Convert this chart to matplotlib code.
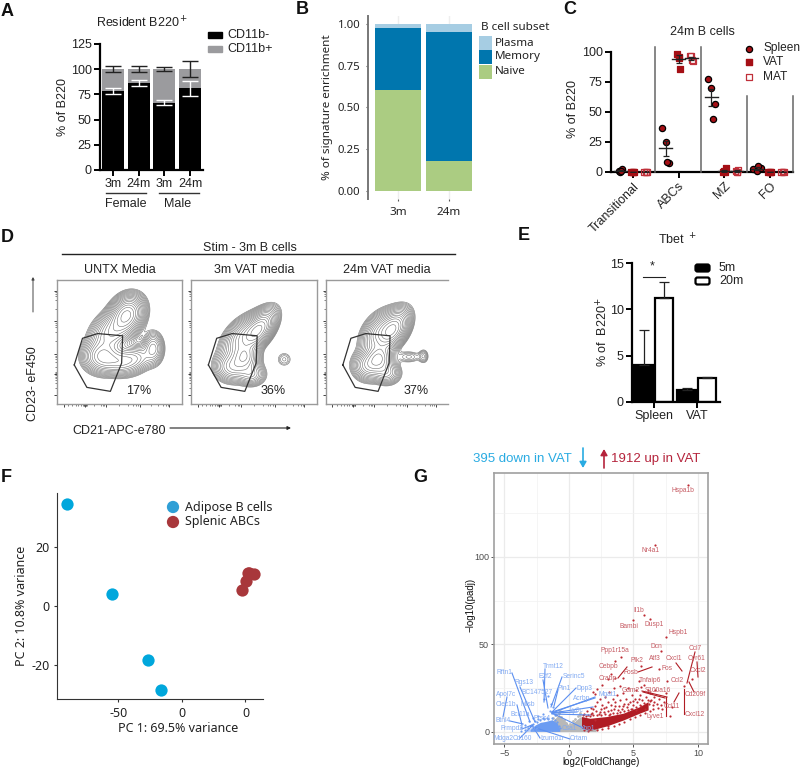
import numpy as np
import matplotlib
matplotlib.use("Agg")
import matplotlib.pyplot as plt
from matplotlib.patches import FancyBboxPatch, Rectangle

W, H = 800, 769
FONT = "Liberation Sans"
FONT2 = "Noto Sans"

# A
a_labels = ["3m", "24m", "3m", "24m"]
a_neg = [78.5, 86, 66.5, 81]
a_neg_err = [3.3, 3, 2.5, 7.5]
a_pos = [21.5, 14, 33.5, 19]
a_top_low = [96.9, 97.5, 98, 92.3]
a_top_high = [103.5, 103.5, 102.5, 107.8]

# B
b_labels = ["3m", "24m"]
b_naive = [0.605, 0.18]
b_memory = [0.375, 0.775]
b_plasma = [0.02, 0.045]

# C
c_labels = ["Transitional", "ABCs", "MZ", "FO"]
spleen = [[1.1, 0.1, 2.2, 0.8], [37, 24.7, 7.2, 8.6], [77.6, 69.5, 56.8, 43.8], [2.5, 1, 3, 5.3]]
vat = [[0, 0.2, 0, 0.1], [98, 96, 86, 95], [0, 0.5, 3, 0.3], [0.2, 0.1, 0.3, 0]]
mat = [[0.2, 0.1, 0.3, 0], [97, 97, 92, 93], [1, 0, 2, 0.2], [0.3, 0.2, 0.1, 0.4]]
spread = [-0.08, 0.0, 0.08, 0.03]
c_mean = [[1, 0.1, 0.1], [19.7, 94, 94.5], [62, 1, 0.8], [2.9, 0.1, 0.2]]
c_err = [[0.5, 0, 0], [6, 3, 1.5], [7, 0.7, 0.5], [0.9, 0, 0]]

# D
d_titles = ["UNTX Media", "3m VAT media", "24m VAT media"]
d_pct = ["17%", "36%", "37%"]
gate_x = [0.138, 0.204, 0.326, 0.525, 0.517, 0.427, 0.239]
gate_y = [0.315, 0.53, 0.568, 0.55, 0.33, 0.102, 0.134]
d_comp = [
    [(0.56, 0.72, 0.07, 0.08, 0.2, 1.0), (0.44, 0.58, 0.09, 0.09, 0.3, 0.5),
     (0.36, 0.38, 0.08, 0.07, 0.0, 0.5), (0.52, 0.34, 0.09, 0.06, 0.0, 0.4),
     (0.77, 0.45, 0.045, 0.07, 0.0, 0.3), (0.64, 0.38, 0.07, 0.055, 0.0, 0.2)],
    [(0.54, 0.60, 0.07, 0.085, 0.55, 1.0), (0.42, 0.55, 0.09, 0.09, 0.5, 0.55),
     (0.43, 0.38, 0.06, 0.06, 0.0, 0.6), (0.33, 0.30, 0.075, 0.065, 0.0, 0.45),
     (0.48, 0.24, 0.06, 0.05, 0.0, 0.3), (0.74, 0.36, 0.04, 0.04, 0.0, 0.075)],
    [(0.55, 0.60, 0.07, 0.085, 0.45, 1.0), (0.44, 0.58, 0.08, 0.09, 0.4, 0.5),
     (0.44, 0.37, 0.06, 0.06, 0.0, 0.6), (0.35, 0.31, 0.07, 0.065, 0.0, 0.45),
     (0.50, 0.25, 0.06, 0.05, 0.0, 0.3), (0.68, 0.38, 0.06, 0.03, 0.0, 0.09),
     (0.80, 0.385, 0.025, 0.035, 0.0, 0.1)],
]
d_major_x = [0.053, 0.225, 0.393, 0.663, 0.90]
d_minor_x = [0.09, 0.12, 0.15, 0.17, 0.19, 0.21, 0.215, 0.22, 0.23, 0.235, 0.24, 0.30, 0.35, 0.37, 0.38,
             0.50, 0.57, 0.61, 0.63, 0.65, 0.75, 0.81, 0.85, 0.87, 0.885]
d_major_y = [0.91, 0.67, 0.40, 0.24, 0.07]
d_minor_y = [0.13, 0.17, 0.19, 0.21, 0.22, 0.23, 0.245, 0.25, 0.26, 0.30, 0.34, 0.36, 0.38, 0.39,
             0.51, 0.58, 0.62, 0.64, 0.655, 0.77, 0.84, 0.87, 0.89, 0.90]

# E
e_labels = ["Spleen", "VAT"]
e_5m = [4.0, 1.3]
e_20m = [11.2, 2.6]
e_5m_err = [3.75, 0.25]
e_20m_err = [1.8, 0.15]

# F
adipose_x = [-90.8, -55, -26.5, -16.8]
adipose_y = [34.6, 3.95, -18.2, -28.6]
abc_x = [47, 50.4, 53, 56.7, 52]
abc_y = [5.3, 8.5, 11.2, 11, 11.2]
f_tick_labels = ["-50", "0", "0"]

# G
red_points = [(1.2, 10.5), (1.4, 12), (1.5, 9.5), (1.7, 13.5), (1.8, 11), (1.9, 22.7), (2.0, 21.5), (2.0, 15),
              (2.1, 12), (2.2, 17), (2.3, 10.5), (2.4, 19), (2.5, 13), (2.6, 15.5), (2.7, 11.5), (2.8, 20),
              (2.9, 14), (3.0, 17), (3.0, 12), (3.1, 23), (3.2, 10.5), (3.3, 15.5), (3.4, 19), (3.5, 13),
              (3.5, 25), (3.6, 17), (3.7, 21), (3.8, 12.5), (3.9, 15), (4.0, 18), (4.0, 26), (4.1, 13),
              (4.2, 22), (4.3, 16), (4.4, 19), (4.5, 14), (4.6, 25), (4.7, 17), (4.8, 13), (4.9, 21),
              (5.0, 15.5), (5.1, 19), (5.2, 12.5), (5.2, 24), (5.3, 17), (5.4, 29), (5.5, 21), (5.6, 25.9),
              (5.6, 15), (5.7, 18), (5.8, 27), (5.9, 13), (6.0, 20), (6.1, 24), (6.2, 16), (6.3, 22),
              (6.4, 18), (6.5, 13), (6.6, 20), (6.7, 24), (6.8, 16), (7.0, 19), (7.2, 13), (7.4, 17),
              (7.5, 22), (7.8, 9), (8.0, 14), (2.0, 7), (3.0, 3.5), (9.56, 30.5), (8.9, 26.5), (7.57, 29),
              (4.2, 30.7), (3.54, 40.7), (4.06, 43), (6.98, 36.2), (7.1, 46), (7.52, 54.3), (5.6, 37.7),
              (9.2, 141), (6.67, 107), (5.84, 66.9), (4.94, 64), (6.28, 64.6), (3.3, 33), (3.0, 30),
              (2.6, 27), (2.2, 24.5), (3.6, 31),
              (1.1, 9.6), (1.3, 9.2), (1.6, 8.9), (1.9, 9.4), (2.2, 9.6), (2.5, 9.9), (2.8, 10.1), (3.1, 9.8),
              (3.4, 10.6), (3.7, 11), (4.0, 11.4), (4.3, 11.9), (4.6, 12.4), (4.9, 13.3), (5.2, 14.4), (5.5, 15.6),
              (5.8, 16.4), (6.1, 18), (1.15, 1.2), (1.5, 0.7), (2.2, 0.9), (2.6, 1.8), (3.0, 2.4), (3.5, 3.4),
              (3.9, 4.6), (4.3, 5.6), (4.7, 7.4), (5.1, 8.6), (5.5, 9.6), (5.9, 11), (6.3, 12.2), (6.5, 15.2),
              (6.3, 17.8), (6.6, 17.2), (6.9, 13.8), (7.1, 15.4), (1.7, 10.2), (2.4, 11.2), (3.3, 12.3), (4.2, 14.6),
              (5.0, 17.4), (3.6, 14.6), (2.7, 13.6), (1.9, 13), (4.6, 15.8), (5.4, 18.6)]
blue_points = [(-1.95, 19), (-1.6, 20.5), (-1.4, 16), (-1.2, 14), (-1.5, 12), (-2.4, 9), (-2.8, 8), (-3.1, 6),
               (-3.4, 4), (-3.7, 3), (-2.0, 10), (-1.1, 9.5), (-2.6, 6.5), (-1.7, 8),
               (-3.2, 2.2), (-3.0, 3.4), (-2.8, 4.6), (-2.5, 5.4), (-2.2, 6.6), (-1.9, 7.2), (-1.6, 7.6), (-1.3, 8),
               (-1.1, 6.6), (-0.9, 5.8), (-0.8, 3.6), (-0.65, 2.2), (-3.4, 1), (-3.7, 0.8), (-2.4, 7.4), (-2.0, 8)]
grey_points = [(-1.5, 3.2), (-1.4, 4.8), (-1.2, 7.8), (-1.0, 9.4), (-0.8, 10.6), (-0.6, 8.8), (-0.4, 6.6), (-0.2, 5),
               (0.1, 4.6), (0.3, 6.4), (0.5, 7.6), (0.7, 9), (0.9, 9.6), (1.1, 7.8), (1.3, 6.2), (1.6, 5.4), (1.9, 3.2),
               (2.2, 1.6), (-0.7, 12), (0.85, 11)]
up_x = [0.98, 1.63, 2.92, 4.21, 5.5, 6.14]
up_top = [8.8, 7.8, 8.8, 10.7, 14.5, 17.3]
up_bottom = [2.1, 0.9, 3.4, 6.8, 10.8, 12.6]
down_x = [-3.0, -2.6, -2.2, -1.8, -1.3, -0.9, -0.7]
down_top = [1.5, 4, 5.5, 6, 7, 5, 1.5]
ns_x = [-1.34, -0.77, 0.0, 0.45, 0.9, 1.5, 2.1]
ns_top = [5.6, 10, 4, 6, 8.8, 6, 1.3]


def axpx(l, t, r, b):
    return fig.add_axes([l / W, 1 - b / H, (r - l) / W, (b - t) / H])


def txt(x, y, s, size=9, ha="center", va="center", color="#222222", family=FONT, **kw):
    return ov.text(x, y, s, fontsize=size, ha=ha, va=va, color=color, family=family, **kw)


def prism_axes(ax):
    for s in ["top", "right"]:
        ax.spines[s].set_visible(False)
    for s in ["left", "bottom"]:
        ax.spines[s].set_linewidth(1.6)
    ax.tick_params(width=1.4, length=4, labelsize=9, pad=2)
    for lab in ax.get_xticklabels() + ax.get_yticklabels():
        lab.set_family(FONT)
        lab.set_color("#222222")


def density(comps):
    gx, gy = np.meshgrid(np.linspace(0, 1, 300), np.linspace(0, 1, 300))
    z = np.zeros_like(gx)
    for cx, cy, sx, sy, rho, w in comps:
        dx = (gx - cx) / sx
        dy = (gy - cy) / sy
        z += w * np.exp(-(dx * dx - 2 * rho * dx * dy + dy * dy) / (2 * (1 - rho * rho)))
    return gx, gy, z / z.max()


fig = plt.figure(figsize=(W / 100, H / 100), dpi=100)
ov = fig.add_axes([0, 0, 1, 1], zorder=10)
ov.set_xlim(0, W)
ov.set_ylim(H, 0)
ov.axis("off")
ov.patch.set_alpha(0)

for letter, lx, ly in [("A", 1, 12), ("B", 296, 9), ("C", 563, 10), ("D", 1, 237), ("E", 518, 236),
                       ("F", 1, 478), ("G", 413, 478)]:
    txt(lx, ly, letter, size=13, ha="left", color="#111111", fontweight="bold")

# panel A
ax = axpx(100, 44, 203, 170)
xa = np.arange(4)
ax.bar(xa, a_neg, width=0.85, color="black")
ax.bar(xa, a_pos, width=0.85, bottom=a_neg, color="#9b9b9e")
ax.errorbar(xa, a_neg, yerr=a_neg_err, fmt="none", ecolor="white", elinewidth=1, capsize=5.5, capthick=1)
top = np.array(a_top_high)
low = np.array(a_top_low)
ax.errorbar(xa, (top + low) / 2, yerr=(top - low) / 2, fmt="none", ecolor="#222222", elinewidth=1, capsize=5.5, capthick=1)
ax.set_xlim(-0.5, 3.5)
ax.set_ylim(0, 125)
ax.set_yticks([0, 25, 50, 75, 100, 125])
ax.set_xticks(xa)
ax.set_xticklabels(a_labels)
prism_axes(ax)
ax.set_ylabel("% of B220", fontsize=9, family=FONT, color="#222222", labelpad=1)
txt(142, 23, "Resident B220$^+$", size=9)
ov.plot([106, 146], [193, 193], color="#333333", lw=1)
ov.plot([159, 199], [193, 193], color="#333333", lw=1)
txt(126, 204, "Female", size=9)
txt(178, 204, "Male", size=9)
ov.add_patch(Rectangle((208, 32), 14, 6, color="black"))
ov.add_patch(Rectangle((208, 46), 14, 6, color="#9b9b9e"))
txt(227, 35, "CD11b-", ha="left")
txt(227, 49, "CD11b+", ha="left")

# panel B
ax = axpx(368, 16, 481, 199)
xb = np.arange(2)
b1 = np.array(b_naive)
b2 = b1 + np.array(b_memory)
ax.grid(axis="x", color="#eeeeee", lw=1)
ax.set_axisbelow(True)
ax.bar(xb, b_naive, width=0.9, color="#abcc82")
ax.bar(xb, b_memory, width=0.9, bottom=b1, color="#0076ae")
ax.bar(xb, b_plasma, width=0.9, bottom=b2, color="#a6cde3")
ax.set_xlim(-0.59, 1.63)
ax.set_ylim(-0.05, 1.05)
ax.set_xticks(xb)
ax.set_xticklabels(b_labels, family=FONT2, fontsize=8.4, color="#222222")
ax.set_yticks([0, 0.25, 0.5, 0.75, 1.0])
ax.set_yticklabels(["0.00", "0.25", "0.50", "0.75", "1.00"], family=FONT2, fontsize=8.2, color="#222222")
ax.tick_params(length=1.5, color="#555555", pad=4)
for s in ["top", "right", "bottom"]:
    ax.spines[s].set_visible(False)
ax.spines["left"].set_color("#777777")
ax.spines["left"].set_linewidth(1.4)
ax.set_ylabel("% of signature enrichment", fontsize=8.4, family=FONT2, color="#222222", labelpad=3)
txt(481, 28, "B cell subset", ha="left", family=FONT2, size=8.4)
for yy, col, lab in [(43, "#a6cde3", "Plasma"), (57, "#0076ae", "Memory"), (72, "#abcc82", "Naive")]:
    ov.add_patch(Rectangle((479, yy - 7), 13, 14, color=col, lw=0))
    txt(495, yy, lab, ha="left", family=FONT2, size=8.4)

# panel C
ax = axpx(611, 47, 793, 172)
ax.set_xlim(-0.48, 3.51)
ax.set_ylim(0, 104)
ax.patch.set_alpha(0)
spots = [(spleen, -0.28, "o", "#a50f15", "black"), (vat, 0.0, "s", "#a50f15", "#a50f15"), (mat, 0.28, "s", "none", "#c0303a")]
for k, (series, off, mk, fc, ec) in enumerate(spots):
    for i, vals in enumerate(series):
        xs = i + off + np.array(spread) * (0.4 if i == 0 or k else 1)
        ax.scatter(xs, vals, s=20 if mk == "o" else 17, marker=mk, facecolor=fc, edgecolor=ec, linewidth=0.9, zorder=3, clip_on=False)
        ax.errorbar(i + off, c_mean[i][k], yerr=c_err[i][k], fmt="none", ecolor="#222222", elinewidth=0.9, capsize=2.5, capthick=0.9, zorder=4)
        ax.plot([i + off - 0.14, i + off + 0.14], [c_mean[i][k]] * 2, color="#222222", lw=1, zorder=4)
ax.set_yticks([0, 25, 50, 75, 100])
ax.set_xticks(range(4))
ax.set_xticklabels(c_labels, rotation=45, ha="right", rotation_mode="anchor")
prism_axes(ax)
ax.spines["left"].set_bounds(0, 100)
ov.plot([655, 655], [47, 172], color="#666666", lw=1.1)
ov.plot([701, 701], [47, 172], color="#666666", lw=1.1)
ov.plot([747, 747], [96, 172], color="#666666", lw=1.1)
ov.plot([793, 793], [96, 172], color="#666666", lw=1.1)
ax.set_ylabel("% of B220", fontsize=9, family=FONT, color="#222222", labelpad=2)
txt(702, 32, "24m B cells")
ov.scatter([749], [49], s=20, marker="o", facecolor="#a50f15", edgecolor="black", linewidth=0.9)
ov.scatter([749], [62], s=17, marker="s", facecolor="#a50f15", edgecolor="#a50f15")
ov.scatter([749], [77], s=17, marker="s", facecolor="none", edgecolor="#c0303a", linewidth=0.9)
txt(763, 48, "Spleen", ha="left", size=8.6)
txt(763, 62, "VAT", ha="left", size=8.6)
txt(763, 77, "MAT", ha="left", size=8.6)

# panel D
boxes = [(57, 182), (191, 317), (326, 448)]
for i, (l, r) in enumerate(boxes):
    ax = axpx(l, 280, r, 404)
    gx, gy, z = density(d_comp[i])
    ax.contour(gx, gy, z, levels=np.geomspace(0.03, 0.88, 17), colors="#6f6f6f", linewidths=0.4)
    ax.plot(gate_x + gate_x[:1], gate_y + gate_y[:1], color="#333333", lw=0.9)
    ax.set_xlim(0, 1)
    ax.set_ylim(0, 1)
    ax.set_xticks(d_major_x)
    ax.set_xticks(d_minor_x, minor=True)
    ax.set_yticks(d_major_y)
    ax.set_yticks(d_minor_y, minor=True)
    ax.set_xticklabels([])
    ax.set_yticklabels([])
    ax.tick_params(which="major", length=2.2, width=0.6, color="#222222")
    ax.tick_params(which="minor", length=1.1, width=0.4, color="#222222")
    for s in ax.spines.values():
        s.set_color("#9a9a9a")
        s.set_linewidth(1)
    if i == 2:
        ax.spines["right"].set_visible(False)
    ax.text(0.655 if i < 2 else 0.74, 0.105, d_pct[i], transform=ax.transAxes, fontsize=9, family=FONT, ha="center", va="center", color="#222222")
    txt((l + r) / 2, 270, d_titles[i])
txt(250, 248, "Stim - 3m B cells")
ov.plot([62, 455], [254, 254], color="#222222", lw=1)
txt(33, 384, "CD23- eF450", rotation=90)
ov.annotate("", xy=(33, 277), xytext=(33, 312), arrowprops=dict(arrowstyle="-|>,head_width=0.08,head_length=0.15", color="#444444", lw=0.7, shrinkA=0, shrinkB=0))
txt(72, 431, "CD21-APC-e780", ha="left")
ov.annotate("", xy=(291, 428), xytext=(170, 428), arrowprops=dict(arrowstyle="-|>,head_width=0.1,head_length=0.2", color="#222222", lw=0.8, shrinkA=0, shrinkB=0))

# panel E
ax = axpx(632, 263, 720, 402)
xe = np.arange(2)
ax.bar(xe - 0.24, e_5m, width=0.43, color="black", edgecolor="black", linewidth=1.6)
ax.bar(xe + 0.24, e_20m, width=0.43, color="white", edgecolor="black", linewidth=1.6)
ax.errorbar(xe - 0.24, e_5m, yerr=[[0, 0], e_5m_err], fmt="none", ecolor="#222222", elinewidth=0.9, capsize=3.5, capthick=0.9)
ax.errorbar(xe + 0.24, e_20m, yerr=[[0, 0], e_20m_err], fmt="none", ecolor="#222222", elinewidth=0.9, capsize=3.5, capthick=0.9)
ax.set_xlim(-0.51, 1.54)
ax.set_ylim(0, 15)
ax.set_yticks([0, 5, 10, 15])
ax.set_xticks(xe)
ax.set_xticklabels(e_labels)
prism_axes(ax)
ov.plot([643, 665], [277, 277], color="#222222", lw=0.8)
txt(652, 266, "*", size=9)
txt(677, 240, "Tbet $^+$")
txt(603, 332, "% of  B220$^{+}$", rotation=90)
for yy, col in [(268, "black"), (281, "white")]:
    ov.add_patch(FancyBboxPatch((696, yy - 3), 13, 6, boxstyle="round,pad=0.5,rounding_size=2", facecolor=col, edgecolor="black", lw=1.6))
txt(719, 268, "5m", ha="left")
txt(719, 281, "20m", ha="left")

# panel F
ax = axpx(57, 493, 263, 699)
ax.scatter(adipose_x, adipose_y, s=78, color="#00a7dc", linewidth=0)
ax.scatter(abc_x, abc_y, s=78, color="#a8373b", linewidth=0)
ax.set_xlim(-98.4, 63.8)
ax.set_ylim(-31.5, 38.3)
ax.set_xticks([-50, 0, 50])
ax.set_xticklabels(f_tick_labels, family=FONT2, fontsize=9, color="#222222")
ax.set_yticks([-20, 0, 20])
ax.set_yticklabels(["-20", "0", "20"], family=FONT2, fontsize=9, color="#222222")
ax.tick_params(length=2.5, width=0.8, color="#333333", pad=3)
for s in ["top", "right"]:
    ax.spines[s].set_visible(False)
ax.spines["left"].set_color("#333333")
ax.spines["bottom"].set_color("#333333")
txt(178, 728, "PC 1: 69.5% variance", family=FONT2)
txt(22, 606, "PC 2: 10.8% variance", rotation=90, family=FONT2)
ov.scatter([173, 173], [507, 522], s=78, color=["#2f9fd6", "#a8373b"], linewidth=0)
txt(185, 507, "Adipose B cells", ha="left", family=FONT2)
txt(185, 522, "Splenic ABCs", ha="left", family=FONT2)

# panel G
ax = axpx(494, 473, 708, 744)
ax.set_xlim(-5.8, 10.78)
ax.set_ylim(-6.9, 148)
ax.set_xticks([-5, 0, 5, 10])
ax.set_xticklabels(["\u22125", "0", "5", "10"], family=FONT, color="#4d4d4d")
ax.set_yticks([0, 50, 100])
ax.set_yticklabels(["0", "50", "100"], family=FONT, color="#4d4d4d")
ax.set_xticks([-2.5, 2.5, 7.5], minor=True)
ax.set_yticks([25, 75, 125], minor=True)
ax.grid(which="major", color="#ebebeb", lw=0.9)
ax.grid(which="minor", color="#f2f2f2", lw=0.5)
ax.set_axisbelow(True)
ax.tick_params(which="minor", length=0)
ax.tick_params(which="major", length=2, width=0.7, color="#555555", labelsize=6.5, pad=1.5)
for s in ax.spines.values():
    s.set_color("#a0a0a0")
    s.set_linewidth(1.2)
gx_, gy_ = np.array(grey_points).T
ax.fill_between(ns_x, 0.2, ns_top, color="#b8b8b8", lw=0)
ax.scatter(gx_, gy_, s=4, color="#b8b8b8", linewidth=0)
ax.fill_between(down_x, 0.3, down_top, color="#6b9cf2", lw=0)
ax.fill_between(up_x, up_bottom, up_top, color="#b01c24", lw=0)
rx, ry = np.array(red_points).T
bx, by = np.array(blue_points).T
ax.scatter(rx, ry, s=2.5, color="#bd2a33", linewidth=0)
ax.scatter(bx, by, s=2.5, color="#6b9cf2", linewidth=0)
txt(601, 762, "log2(FoldChange)", size=7, color="#111111")
txt(470, 605, "\u2212log10(padj)", size=7, rotation=90, color="#111111")

txt(572, 459, "395 down in VAT", size=9.5, ha="right", color="#29abe2")
txt(611, 459, "1912 up in VAT", size=9.5, ha="left", color="#b5243c")
ov.annotate("", xy=(583, 468), xytext=(583, 448), arrowprops=dict(arrowstyle="-|>,head_width=0.2,head_length=0.35", color="#29abe2", lw=1.2, shrinkA=0, shrinkB=0))
ov.annotate("", xy=(604, 449), xytext=(604, 468), arrowprops=dict(arrowstyle="-|>,head_width=0.2,head_length=0.35", color="#b5243c", lw=1.2, shrinkA=0, shrinkB=0))

red_labels = [("Hspa1b", 683, 491), ("Nr4a1", 651, 550), ("Il1b", 639, 611), ("Bambi", 629, 626), ("Dusp1", 654, 625),
              ("Hspb1", 678, 632), ("Dcn", 656, 646), ("Ppp1r15a", 615, 650), ("Cebpb", 608, 667), ("Crabp", 608, 678),
              ("Plk2", 637, 661), ("Atf3", 655, 658), ("Fosb", 631, 673), ("Fos", 667, 669), ("Tnfaip6", 650, 681),
              ("Cxcl1", 674, 659), ("Ccl2", 677, 681), ("Ccl7", 695, 648), ("Cyr61", 696, 659), ("Cxcl2", 698, 670),
              ("Cd209f", 695, 695), ("Cxcl12", 695, 715), ("Gdm2", 631, 691), ("S100a16", 658, 691), ("Ccl11", 672, 706),
              ("Lyve1", 655, 717)]
for name, lx, ly in red_labels:
    txt(lx, ly, name, size=4.8, color="#c65b63")
blue_labels = [("Rftn1", 504, 672), ("Trmt12", 553, 666), ("E2f2", 545, 677), ("Serinc5", 574, 677), ("Pin1", 564, 688),
               ("Dpp3", 584, 688), ("Rgs13", 524, 683), ("BC147527", 537, 693), ("Apol7c", 506, 694), ("Clec1b", 506, 705),
               ("Mfsb", 528, 705), ("Bcl11a", 520, 715), ("Btnl4", 503, 721), ("Frmpd2", 512, 729), ("Mdga2", 503, 739),
               ("Cd160", 522, 739), ("Izumo1r", 552, 739), ("Crtam", 579, 739), ("Acrbp", 582, 699), ("Mgat1", 608, 695),
               ("Ly6c", 576, 710), ("Csa1", 569, 728), ("Xbp1", 588, 728), ("Prss4", 542, 718), ("Sv2c", 532, 731)]
for name, lx, ly in blue_labels:
    txt(lx, ly, name, size=4.8, color="#82aaf2")

red_leaders = [(627, 667, 618, 678), (652, 667, 638, 672), (676, 663, 682, 671), (695, 652, 687, 683), (697, 662, 698, 677),
               (689, 682, 694, 692), (684, 689, 684, 714), (679, 693, 674, 702), (666, 697, 666, 716), (642, 691, 667, 697),
               (643, 692, 665, 698)]
for x0, y0, x1, y1 in red_leaders:
    ov.plot([x0, x1], [y0, y1], color="#b01c24", lw=0.8)
blue_leaders = [(512, 673, 530, 722), (520, 687, 535, 722), (545, 669, 544, 702), (543, 680, 548, 708), (562, 677, 551, 707),
                (558, 690, 554, 706), (576, 688, 552, 712), (595, 698, 552, 712), (595, 697, 552, 713), (507, 697, 503, 717),
                (517, 705, 522, 725), (510, 721, 523, 724), (522, 729, 532, 725), (520, 738, 533, 725), (540, 738, 532, 725),
                (570, 739, 533, 727), (583, 728, 552, 713), (593, 707, 552, 713), (590, 715, 552, 714), (577, 712, 552, 713)]
for x0, y0, x1, y1 in blue_leaders:
    ov.plot([x0, x1], [y0, y1], color="#5b8ff0", lw=0.8)

fig.savefig("out.png", dpi=100)
